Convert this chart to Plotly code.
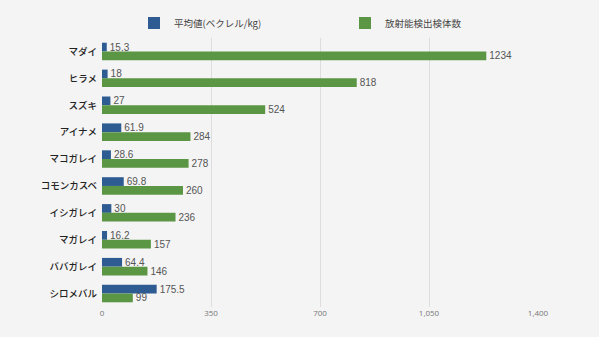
import plotly.graph_objects as go

# Fish species and their measurements
species = ["マダイ", "ヒラメ", "スズキ", "アイナメ", "マコガレイ",
           "コモンカスベ", "イシガレイ", "マガレイ", "ババガレイ", "シロメバル"]
avg_bq = [15.3, 18, 27, 61.9, 28.6, 69.8, 30, 16.2, 64.4, 175.5]
detected = [1234, 818, 524, 284, 278, 260, 236, 157, 146, 99]

series_names = ["平均値(ベクレル/kg)", "放射能検出検体数"]
tick_vals = [0, 350, 700, 1050, 1400]
tick_text = ["0", "350", "700", "1,050", "1,400"]

BLUE = "#2d5b92"
GREEN = "#5b9645"
num_font = dict(family="Liberation Sans, Arial, sans-serif", size=10, color="#555555")

fig = go.Figure()
fig.add_trace(go.Bar(
    name=series_names[0], y=species, x=avg_bq, orientation="h",
    marker=dict(color=BLUE, line=dict(width=0)),
    text=[f"{v:g}" for v in avg_bq], textposition="outside",
    textfont=num_font, cliponaxis=False,
))
fig.add_trace(go.Bar(
    name=series_names[1], y=species, x=detected, orientation="h",
    marker=dict(color=GREEN, line=dict(width=0)),
    text=[str(v) for v in detected], textposition="outside",
    textfont=num_font, cliponaxis=False,
))

fig.update_layout(
    width=599, height=337,
    paper_bgcolor="#f4f4f4", plot_bgcolor="#f4f4f4",
    margin=dict(l=102, r=61, t=38, b=30, autoexpand=False),
    barmode="group", bargap=0.35, bargroupgap=0.0,
    uniformtext=dict(minsize=8, mode="show"),
    font=dict(family="Noto Sans CJK JP, sans-serif"),
    legend=dict(
        orientation="h", xref="container", yref="container",
        x=134 / 599, xanchor="left", y=1 - 23 / 337, yanchor="middle",
        traceorder="normal", entrywidth=166, entrywidthmode="pixels",
        font=dict(family="Noto Sans CJK JP, sans-serif", size=9.5, color="#444444"),
        bgcolor="rgba(0,0,0,0)",
    ),
    showlegend=True,
)
fig.update_xaxes(
    range=[0, 1400], tickvals=tick_vals, ticktext=tick_text,
    showgrid=True, gridcolor="#dddddd", gridwidth=1, zeroline=False,
    showline=False, ticks="",
    tickfont=dict(family="Open Sans, sans-serif", size=8, color="#777777"),
)
fig.update_yaxes(
    autorange="reversed", showgrid=False, showline=False, ticks="",
    ticklabelstandoff=4,
    tickfont=dict(family="Noto Sans CJK JP, sans-serif", size=9.5,
                  color="#222222", weight=500),
)

fig.write_html("out.html")
